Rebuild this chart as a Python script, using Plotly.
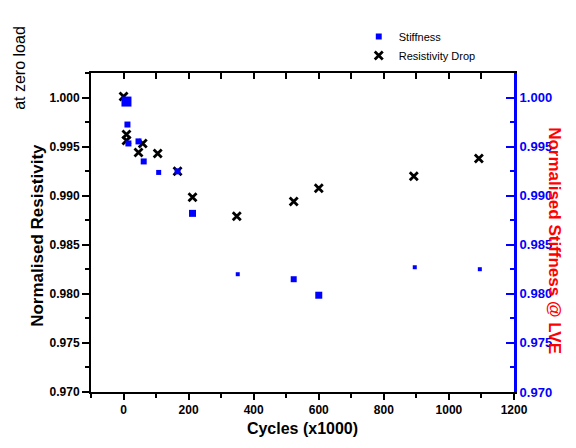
import plotly.graph_objects as go

# Data
stiff_cycles = [9, 12, 15, 46, 62, 108, 166, 212, 351, 523, 600, 895, 1095]
stiff_values = [0.99959, 0.99725, 0.99532, 0.99553, 0.99349, 0.99237, 0.99248,
                0.98820, 0.98200, 0.98149, 0.97986, 0.98271, 0.98251]
stiff_sizes = [10, 6, 6, 6, 6, 5, 6, 7, 4, 6, 7, 4, 4]

res_cycles = [0, 9, 9, 46, 59, 105, 166, 212, 348, 523, 600, 892, 1092]
res_values = [1.0001, 0.99624, 0.99563, 0.99441, 0.99532, 0.99431, 0.99248,
              0.98983, 0.98790, 0.98942, 0.99075, 0.99197, 0.99380]

x_range = [-100, 1200]
y_range = [0.970, 1.0025]

FONT = "Liberation Sans, Arial, sans-serif"

fig = go.Figure()

fig.add_trace(go.Scatter(
    x=stiff_cycles, y=stiff_values, mode="markers", name="Stiffness",
    xaxis="x2", yaxis="y2",
    marker=dict(symbol="square", color="#0000ff", size=stiff_sizes,
                opacity=1, line=dict(width=0)),
))
fig.add_trace(go.Scatter(
    x=res_cycles, y=res_values, mode="markers", name="Resistivity Drop",
    xaxis="x", yaxis="y",
    marker=dict(symbol="x-thin", color="black", size=8, opacity=1,
                line=dict(width=2.8, color="black")),
))

fig.update_layout(
    width=576, height=448,
    margin=dict(l=91, r=62, t=73, b=56),
    paper_bgcolor="white", plot_bgcolor="white",
    font=dict(family=FONT, color="black"),
    showlegend=True,
    legend=dict(x=0.633, y=1.16, xanchor="left", yanchor="top",
                bgcolor="rgba(0,0,0,0)", font=dict(size=11, family=FONT),
                tracegroupgap=0, itemsizing="trace"),
    xaxis=dict(
        range=x_range, dtick=200, tick0=0, showgrid=False, zeroline=False,
        showline=True, linecolor="black", linewidth=2,
        ticks="outside", ticklen=6, tickwidth=2, tickcolor="black",
        minor=dict(dtick=100, tick0=0, ticks="outside", ticklen=4,
                   tickwidth=1.5, tickcolor="black", showgrid=False),
        tickfont=dict(size=12, family=FONT, weight="bold"),
        title=dict(text="Cycles (x1000)", standoff=6,
                   font=dict(size=16, family=FONT, weight="bold")),
    ),
    xaxis2=dict(
        range=x_range, dtick=100, tick0=0, overlaying="x", side="top",
        anchor="y2", showgrid=False, zeroline=False, showline=True,
        linecolor="black", linewidth=2, ticks="inside", ticklen=6,
        tickwidth=2, tickcolor="black", showticklabels=False,
    ),
    yaxis=dict(
        range=y_range, dtick=0.005, tick0=0.970, tickformat=".3f",
        showgrid=False, zeroline=False, showline=True, linecolor="black",
        linewidth=2, ticks="outside", ticklen=7, tickwidth=2, tickcolor="black",
        minor=dict(dtick=0.0025, tick0=0.970, ticks="outside", ticklen=4,
                   tickwidth=1.5, tickcolor="black", showgrid=False),
        tickfont=dict(size=12, family=FONT, weight="bold"),
    ),
    yaxis2=dict(
        range=y_range, dtick=0.005, tick0=0.970, tickformat=".3f",
        overlaying="y", side="right", anchor="x2",
        showgrid=False, zeroline=False, showline=True, linecolor="#0000ff",
        linewidth=3, ticks="inside", ticklen=8, tickwidth=2,
        tickcolor="#0000ff",
        minor=dict(dtick=0.0025, tick0=0.970, ticks="inside", ticklen=4,
                   tickwidth=1.5, tickcolor="#0000ff", showgrid=False),
        tickfont=dict(size=13, family=FONT, weight="bold", color="#0000ff"),
    ),
)

fig.add_annotation(
    text="at zero load", xref="paper", yref="paper", x=-0.168, y=1.016,
    xanchor="center", yanchor="middle", textangle=-90, showarrow=False,
    font=dict(size=16, family=FONT, color="black"),
)
fig.add_annotation(
    text="Normalised Resistivity", xref="paper", yref="paper", x=-0.125, y=0.49,
    xanchor="center", yanchor="middle", textangle=-90, showarrow=False,
    font=dict(size=17, family=FONT, color="black", weight="bold"),
)
fig.add_annotation(
    text="Normalised Stiffness @ LVE", xref="paper", yref="paper", x=1.097,
    y=0.476, xanchor="center", yanchor="middle", textangle=90, showarrow=False,
    font=dict(size=17, family=FONT, color="#ff0000", weight="bold"),
)

fig.write_html("out.html")
